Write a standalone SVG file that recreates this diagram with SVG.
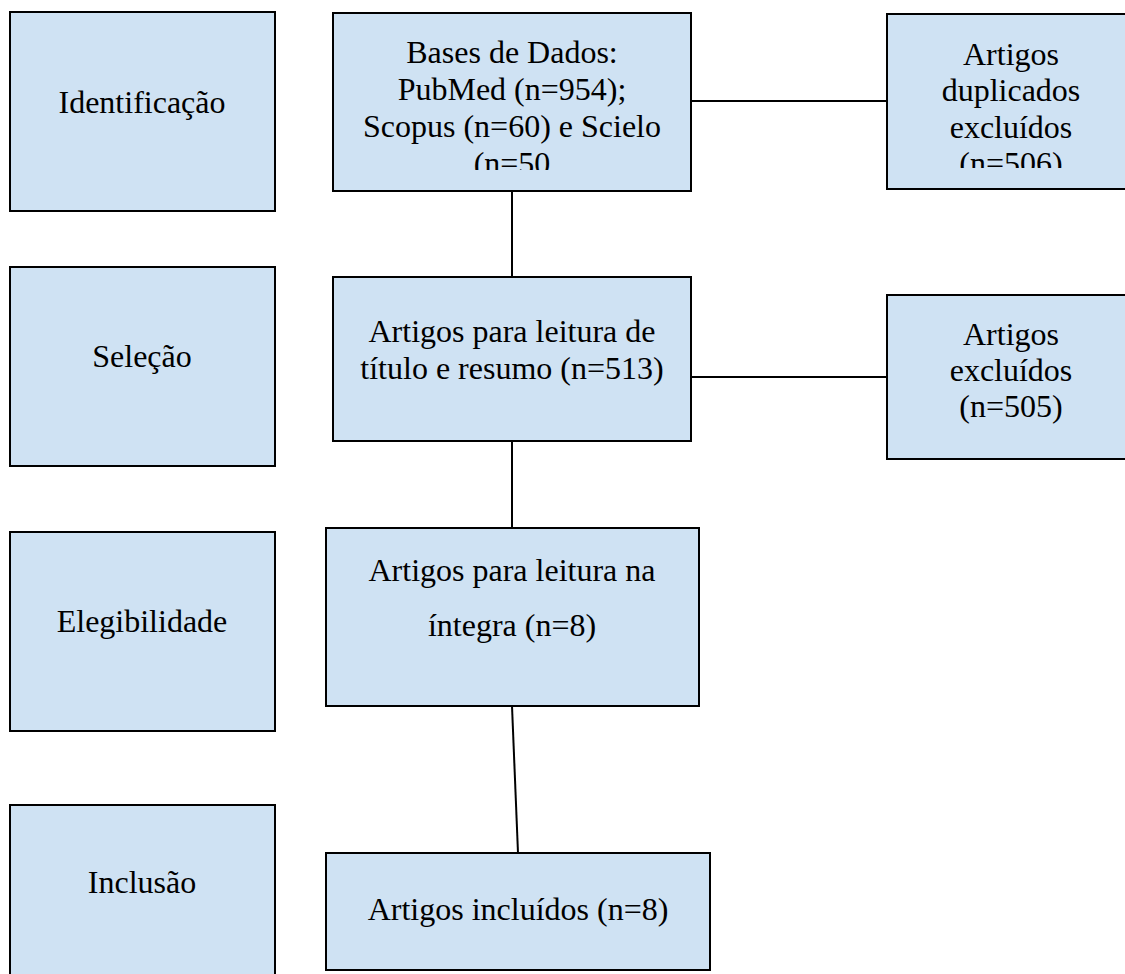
<svg xmlns="http://www.w3.org/2000/svg" width="1125" height="974" viewBox="0 0 1125 974">
<style>
.box{fill:#cfe2f3;stroke:#000;stroke-width:2}
.t{font-family:"Liberation Serif","Times New Roman",serif;font-size:32px;fill:#000;text-anchor:middle}
.c{stroke:#000;stroke-width:2;fill:none}
</style>
<defs>
<clipPath id="clipA"><rect x="334" y="14" width="356" height="156"/></clipPath>
<clipPath id="clipB"><rect x="888" y="15" width="250" height="153"/></clipPath>
</defs>
<rect width="1125" height="974" fill="#fff"/>
<g id="connectors">
<line class="c" x1="512" y1="191" x2="512" y2="277"/>
<line class="c" x1="512" y1="441" x2="512" y2="528"/>
<line class="c" x1="512" y1="706" x2="518" y2="853"/>
<line class="c" x1="691" y1="101" x2="887" y2="101"/>
<line class="c" x1="691" y1="377" x2="887" y2="377"/>
</g>
<g id="identificacao">
<rect class="box" x="10" y="12" width="265" height="199"/>
<text class="t" x="142" y="113">Identificação</text>
</g>
<g id="selecao">
<rect class="box" x="10" y="267" width="265" height="199"/>
<text class="t" x="142" y="367">Seleção</text>
</g>
<g id="elegibilidade">
<rect class="box" x="10" y="532" width="265" height="199"/>
<text class="t" x="142" y="632">Elegibilidade</text>
</g>
<g id="inclusao">
<rect class="box" x="10" y="805" width="265" height="200"/>
<text class="t" x="142" y="893">Inclusão</text>
</g>
<g id="bases">
<rect class="box" x="333" y="13" width="358" height="178"/>
<g clip-path="url(#clipA)">
<text class="t" x="512" y="63">Bases de Dados:</text>
<text class="t" x="512" y="100">PubMed (n=954);</text>
<text class="t" x="512" y="137">Scopus (n=60) e Scielo</text>
<text class="t" x="512" y="174">(n=50</text>
</g>
</g>
<g id="titulo">
<rect class="box" x="333" y="277" width="358" height="164"/>
<text class="t" x="512" y="342">Artigos para leitura de</text>
<text class="t" x="512" y="379">título e resumo (n=513)</text>
</g>
<g id="integra">
<rect class="box" x="326" y="528" width="373" height="178"/>
<text class="t" x="512" y="581">Artigos para leitura na</text>
<text class="t" x="512" y="636">íntegra (n=8)</text>
</g>
<g id="incluidos">
<rect class="box" x="326" y="853" width="384" height="117"/>
<text class="t" x="518" y="920">Artigos incluídos (n=8)</text>
</g>
<g id="duplicados">
<rect class="box" x="887" y="14" width="250" height="175"/>
<g clip-path="url(#clipB)">
<text class="t" x="1011" y="65">Artigos</text>
<text class="t" x="1011" y="101">duplicados</text>
<text class="t" x="1011" y="138">excluídos</text>
<text class="t" x="1011" y="174">(n=506)</text>
</g>
</g>
<g id="excluidos">
<rect class="box" x="887" y="295" width="250" height="164"/>
<text class="t" x="1011" y="345">Artigos</text>
<text class="t" x="1011" y="381">excluídos</text>
<text class="t" x="1011" y="417">(n=505)</text>
</g>
</svg>
